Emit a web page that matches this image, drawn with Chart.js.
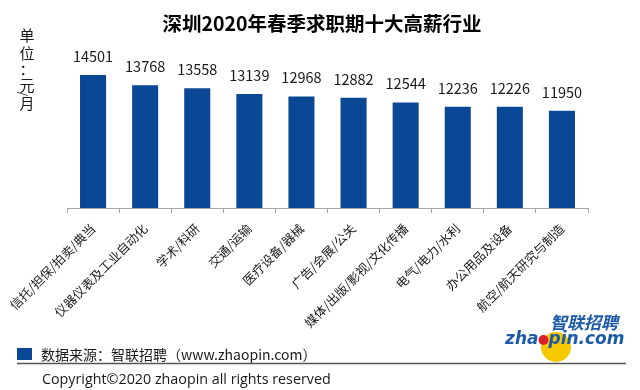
<!DOCTYPE html>
<html>
<head>
<meta charset="utf-8">
<script src="https://cdn.jsdelivr.net/npm/chart.js@4"></script>
<style>
html, body { margin: 0; padding: 0; background: #fff; }
#wrap { width: 640px; height: 390px; }
</style>
</head>
<body>
<div id="wrap"><canvas id="chart" width="640" height="390"></canvas></div>
<script>
const industries = [
	'信托/担保/拍卖/典当',
	'仪器仪表及工业自动化',
	'学术/科研',
	'交通/运输',
	'医疗设备/器械',
	'广告/会展/公关',
	'媒体/出版/影视/文化传播',
	'电气/电力/水利',
	'办公用品及设备',
	'航空/航天研究与制造'
];
const salaries = [14501, 13768, 13558, 13139, 12968, 12882, 12544, 12236, 12226, 11950];
const yMin = 5000;
const yMax = 16000;

const titleText = '深圳2020年春季求职期十大高薪行业';
const sourceText = '数据来源：智联招聘（www.zhaopin.com）';
const copyrightText = 'Copyright©2020 zhaopin all rights reserved';

const CJK = '"Noto Sans CJK SC", "Noto Sans", sans-serif';
const BLUE = '#0a4795';
const TEXT = '#1a1a1a';

const decorPlugin = {
	id: 'decor',
	beforeDraw(chart) {
		const ctx = chart.ctx;
		ctx.save();
		ctx.fillStyle = '#fff';
		ctx.fillRect(0, 0, chart.width, chart.height);
		ctx.restore();
	},
	afterDatasetsDraw(chart) {
		const ctx = chart.ctx;
		const meta = chart.getDatasetMeta(0);
		ctx.save();
		ctx.fillStyle = TEXT;
		ctx.font = '14.5px ' + CJK;
		ctx.textAlign = 'center';
		ctx.textBaseline = 'alphabetic';
		meta.data.forEach((bar, i) => {
			ctx.fillText(String(salaries[i]), bar.x, bar.y - 13);
		});
		ctx.restore();
	},
	afterDraw(chart) {
		const ctx = chart.ctx;
		ctx.save();

		// title
		ctx.fillStyle = '#000';
		ctx.font = 'bold 19.5px ' + CJK;
		ctx.textAlign = 'center';
		ctx.textBaseline = 'middle';
		ctx.fillText(titleText, 322, 24);

		// unit label, vertical
		ctx.fillStyle = TEXT;
		ctx.font = '15px ' + CJK;
		[['单', 35], ['位', 53], ['：', 69], ['元', 85], ['月', 103]].forEach(([ch, y]) => {
			ctx.fillText(ch, 27, y);
		});
		ctx.save();
		ctx.translate(23, 94);
		ctx.rotate(Math.PI / 2);
		ctx.font = '11px ' + CJK;
		ctx.fillText('/', 0, 0);
		ctx.restore();

		// footer
		ctx.fillStyle = BLUE;
		ctx.fillRect(17, 348, 15, 12);
		ctx.fillStyle = TEXT;
		ctx.textAlign = 'left';
		ctx.font = '14px ' + CJK;
		ctx.fillText(sourceText, 41, 355);
		ctx.strokeStyle = '#555';
		ctx.lineWidth = 1.5;
		ctx.beginPath();
		ctx.moveTo(17, 363.5);
		ctx.lineTo(626, 363.5);
		ctx.stroke();
		ctx.font = '14.3px "Open Sans", "Noto Sans", sans-serif';
		ctx.fillText(copyrightText, 42, 380);

		// logo
		ctx.fillStyle = '#f6c800';
		ctx.beginPath();
		ctx.arc(556, 347, 15, 0, Math.PI * 2);
		ctx.fill();
		ctx.fillStyle = '#1d5ba8';
		ctx.font = 'italic bold 17px ' + CJK;
		ctx.textAlign = 'left';
		ctx.fillText('智联招聘', 550, 323);
		ctx.font = 'italic bold 17px "DejaVu Sans", sans-serif';
		let x = 505;
		ctx.fillText('zha', x, 340);
		x += ctx.measureText('zha').width;
		ctx.fillStyle = '#d9202a';
		ctx.beginPath();
		ctx.arc(x + 5, 340, 5, 0, Math.PI * 2);
		ctx.fill();
		ctx.fillStyle = '#1d5ba8';
		ctx.fillText('pin.com', x + 10, 340);

		ctx.restore();
	}
};

new Chart(document.getElementById('chart'), {
	type: 'bar',
	data: {
		labels: industries,
		datasets: [{
			data: salaries,
			backgroundColor: BLUE,
			borderWidth: 0,
			categoryPercentage: 1,
			barPercentage: 0.5
		}]
	},
	options: {
		responsive: false,
		animation: false,
		layout: {
			padding: { left: 67, right: 52, top: 54, bottom: 0 }
		},
		plugins: {
			legend: { display: false },
			tooltip: { enabled: false },
			title: { display: false }
		},
		scales: {
			x: {
				offset: true,
				grid: {
					display: true,
					offset: true,
					drawOnChartArea: false,
					drawTicks: true,
					tickLength: 5,
					color: '#a6a6a6'
				},
				border: { display: true, color: '#a6a6a6', width: 1 },
				ticks: {
					autoSkip: false,
					minRotation: 45,
					maxRotation: 45,
					padding: 8,
					color: TEXT,
					font: { family: CJK, size: 12.5 }
				},
				afterFit(scale) {
					scale.height = 182;
				}
			},
			y: {
				display: false,
				min: yMin,
				max: yMax
			}
		}
	},
	plugins: [decorPlugin]
});
</script>
</body>
</html>
